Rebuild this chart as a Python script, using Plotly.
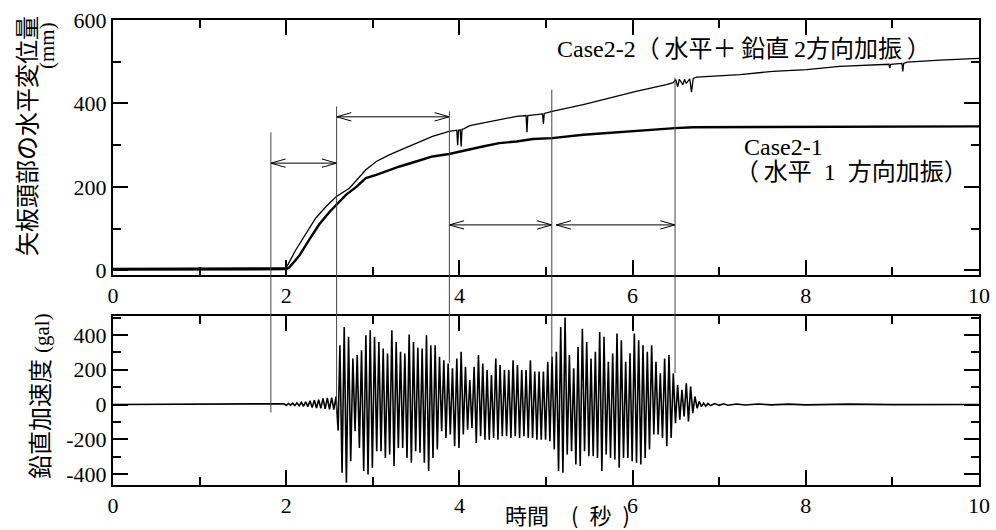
import plotly.graph_objects as go

# ---------------- data ----------------
# Horizontal displacement of sheet-pile head (mm)
case21_t = [0.0, 1.90, 2.00, 2.035, 2.15, 2.27, 2.38, 2.50, 2.58, 2.69, 2.81, 2.92, 3.04, 3.19,
            3.31, 3.50, 3.69, 3.88, 4.08, 4.27, 4.46, 4.66, 4.85, 5.07, 5.43, 5.81, 6.20,
            6.49, 6.70, 8.00, 10.0]
case21_v = [2, 2, 3, 7, 35, 75, 110, 140, 157, 181, 200, 221, 229, 241,
            249, 261, 273, 279, 289, 297, 305, 309, 315, 317, 325, 331, 337,
            341, 343, 344, 345]

case22_t = [0.0, 1.90, 2.00, 2.11, 2.23, 2.34, 2.46, 2.58, 2.73, 2.84, 2.92, 3.04, 3.19, 3.35,
            3.50, 3.69, 3.88, 3.97, 3.98, 3.99, 4.01, 4.02, 4.03, 4.05, 4.12, 4.27, 4.46,
            4.66, 4.77, 4.78, 4.79, 4.89, 4.96, 4.97, 4.98, 5.07, 5.43, 5.81, 6.04, 6.39,
            6.47, 6.49, 6.50, 6.52, 6.54, 6.58, 6.60, 6.62, 6.66, 6.68, 6.70, 6.74, 7.24,
            7.62, 8.01, 8.39, 8.78, 8.96, 8.97, 8.98, 9.11, 9.12, 9.13, 9.17, 9.55, 9.79, 10.0]
case22_v = [5, 5, 6, 49, 89, 125, 153, 177, 197, 221, 241, 261, 277, 291,
            305, 321, 333, 336, 300, 336, 337, 297, 338, 339, 347, 353, 361,
            369, 371, 331, 371, 373, 375, 351, 376, 381, 397, 417, 429, 445,
            450, 455, 457, 440, 458, 445, 458, 448, 459, 427, 460, 463, 469,
            477, 481, 489, 493, 494, 485, 494, 496, 477, 496, 499, 504, 507, 508]

# Vertical acceleration (gal)
acc_pre_t = [0.0, 1.90, 1.95, 1.975, 2.000, 2.025, 2.050, 2.075, 2.100, 2.125, 2.150, 2.175,
             2.200, 2.225, 2.250, 2.275, 2.300, 2.325, 2.350, 2.375, 2.400, 2.425, 2.450,
             2.475, 2.500, 2.525, 2.550, 2.575, 2.600]
acc_pre_v = [0, 0, 0, 4, -5, 6, -4, 8, -6, 10, -8, 12,
             -10, 15, -12, 22, -18, 25, -20, 28, -22, 35, -25,
             38, -28, 40, -30, 45, -150]

acc_peak_hi_t = [2.62, 2.67, 2.72, 2.77, 2.82, 2.87, 2.92, 2.97, 3.02, 3.07, 3.12, 3.17, 3.22,
                 3.27, 3.32, 3.37, 3.42, 3.47, 3.52, 3.57, 3.62, 3.67, 3.72, 3.77, 3.82, 3.87,
                 3.92, 3.97, 4.02, 4.07, 4.12, 4.17, 4.22, 4.27, 4.32, 4.37, 4.42, 4.47, 4.52,
                 4.57, 4.62, 4.67, 4.72, 4.77, 4.82, 4.87, 4.92, 4.97, 5.02, 5.07, 5.12, 5.17,
                 5.22, 5.27, 5.32, 5.37, 5.42, 5.47, 5.52, 5.57, 5.62, 5.67, 5.72, 5.77, 5.82,
                 5.87, 5.92, 5.97, 6.02, 6.07, 6.12, 6.17, 6.22, 6.27, 6.32, 6.37, 6.42, 6.47,
                 6.52, 6.57, 6.62, 6.67, 6.72, 6.77]
acc_peak_hi_v = [341, 446, 389, 265, 284, 312, 398, 427, 389, 360, 322, 293, 427,
                 360, 303, 293, 402, 360, 326, 322, 398, 341, 341, 274, 255, 236,
                 208, 265, 303, 217, 141, 217, 284, 236, 198, 170, 265, 227, 198,
                 198, 255, 227, 198, 198, 255, 189, 189, 189, 246, 274, 303, 446,
                 500, 284, 208, 331, 436, 360, 265, 303, 417, 389, 246, 293, 408,
                 370, 246, 295, 408, 370, 341, 303, 341, 246, 179, 265, 284, 179,
                 112, 84, 122, 103, 46, 17]
acc_peak_lo_t = [2.645, 2.695, 2.745, 2.795, 2.845, 2.895, 2.945, 2.995, 3.045, 3.095, 3.145,
                 3.195, 3.245, 3.295, 3.345, 3.395, 3.445, 3.495, 3.545, 3.595, 3.645, 3.695,
                 3.745, 3.795, 3.845, 3.895, 3.945, 3.995, 4.045, 4.095, 4.145, 4.195, 4.245,
                 4.295, 4.345, 4.395, 4.445, 4.495, 4.545, 4.595, 4.645, 4.695, 4.745, 4.795,
                 4.845, 4.895, 4.945, 4.995, 5.045, 5.095, 5.145, 5.195, 5.245, 5.295, 5.345,
                 5.395, 5.445, 5.495, 5.545, 5.595, 5.645, 5.695, 5.745, 5.795, 5.845, 5.895,
                 5.945, 5.995, 6.045, 6.095, 6.145, 6.195, 6.245, 6.295, 6.345, 6.395, 6.445,
                 6.495, 6.545, 6.595, 6.645, 6.695, 6.745]
acc_peak_lo_v = [-392, -450, -326, -154, -250, -383, -402, -364, -269, -269, -307,
                 -288, -354, -250, -250, -307, -335, -269, -278, -335, -383, -307,
                 -259, -154, -192, -173, -240, -250, -173, -145, -135, -221, -183,
                 -202, -202, -192, -202, -183, -183, -192, -183, -192, -183, -192,
                 -192, -202, -202, -202, -211, -259, -383, -392, -288, -269, -345,
                 -354, -269, -297, -297, -307, -383, -288, -307, -316, -364, -307,
                 -307, -326, -335, -345, -307, -259, -173, -173, -192, -240, -192,
                 -107, -88, -69, -97, -50, -21]

acc_post_t = [6.795, 6.820, 6.845, 6.870, 6.900, 6.950, 7.000, 7.050, 7.100, 7.200, 7.300,
              7.450, 7.600, 7.800, 8.000, 8.500, 9.000, 9.500, 10.0]
acc_post_v = [-12, 8, -10, 6, -6, 5, -5, 4, -4, 3, -3, 3, -2, 2, -2, 2, -1, 1, 0]

# Reference lines (time) and their extents (top panel mm / bottom panel gal)
mark_t = [1.823, 2.582, 3.884, 5.067, 6.49]
mark_top_mm = [331, 393, 381, 433, 462]
mark_bot_gal = [-46, -46, 240, 240, 180]

# Double-headed arrows: start time, end time, height (mm)
arrow_t0 = [1.823, 2.582, 3.884, 5.118]
arrow_t1 = [2.582, 3.884, 5.067, 6.49]
arrow_mm = [257, 368, 109, 109]

x_ticks = [0, 2, 4, 6, 8, 10]
x_ticktext = ["0", "2", "4", "6", "8", "10"]
y1_ticks = [0, 200, 400, 600]
y1_ticktext = ["0", "200", "400", "600"]
y2_ticks = [-400, -200, 0, 200, 400]
y2_ticktext = ["-400", "-200", "0", "200", "400"]

label_case22 = "Case2-2（\u2009水平＋\u2009鉛直\u20092方向加振\u2009）"
label_case21a = "Case2-1"
label_case21b = "（\u2009水平\u20021\u2002方向加振）"
ytitle1 = "矢板頭部の水平変位量"
ytitle1_unit = "(mm)"
ytitle2 = "鉛直加速度"
ytitle2_unit = "(gal)"
xtitle = "時間\u3000(\u2002秒\u2002)"

# ---------------- layout constants ----------------
W, H = 996, 530
ML, MR, MT, MB = 113, 17, 20, 45
Y1_RANGE = [-11, 600]
Y2_RANGE = [-463, 509]
plot_h = H - MT - MB
DOM1 = [1 - (275 - MT) / plot_h, 1.0]
DOM2 = [0.0, 1 - (316 - MT) / plot_h]

SERIF = "Liberation Serif"
CJK = "Noto Sans CJK JP"
MIX = "Liberation Serif, Noto Sans CJK JP"
TICK_SIZE = 22


def paper_y(val, rng, dom):
    return dom[0] + (val - rng[0]) / (rng[1] - rng[0]) * (dom[1] - dom[0])


def py(px):
    """pixel row -> paper y"""
    return 1 - (px - MT) / plot_h


# interleave peak lists into a single acceleration series
acc_t = list(acc_pre_t)
acc_v = list(acc_pre_v)
for i in range(len(acc_peak_hi_t)):
    acc_t.append(acc_peak_hi_t[i]); acc_v.append(acc_peak_hi_v[i])
    if i < len(acc_peak_lo_t):
        acc_t.append(acc_peak_lo_t[i]); acc_v.append(acc_peak_lo_v[i])
acc_t += acc_post_t
acc_v += acc_post_v

fig = go.Figure()

fig.add_trace(go.Scatter(x=case22_t, y=case22_v, mode="lines",
                         line=dict(color="black", width=1.3), xaxis="x", yaxis="y",
                         showlegend=False, hoverinfo="skip"))
fig.add_trace(go.Scatter(x=case21_t, y=case21_v, mode="lines",
                         line=dict(color="black", width=2.4), xaxis="x", yaxis="y",
                         showlegend=False, hoverinfo="skip"))
fig.add_trace(go.Scatter(x=acc_t, y=acc_v, mode="lines",
                         line=dict(color="black", width=1.6), xaxis="x2", yaxis="y2",
                         showlegend=False, hoverinfo="skip"))

# arrows (shaft + open V heads)
HEAD_DT = 0.17
HEAD_DY = 10
ax_x, ax_y = [], []
for t0, t1, yv in zip(arrow_t0, arrow_t1, arrow_mm):
    ax_x += [t0, t1, None]
    ax_y += [yv, yv, None]
    ax_x += [t0 + HEAD_DT, t0, t0 + HEAD_DT, None]
    ax_y += [yv + HEAD_DY, yv, yv - HEAD_DY, None]
    ax_x += [t1 - HEAD_DT, t1, t1 - HEAD_DT, None]
    ax_y += [yv + HEAD_DY, yv, yv - HEAD_DY, None]
fig.add_trace(go.Scatter(x=ax_x, y=ax_y, mode="lines", line=dict(color="black", width=1),
                         xaxis="x", yaxis="y", showlegend=False, hoverinfo="skip"))

shapes = []
for t, top, bot in zip(mark_t, mark_top_mm, mark_bot_gal):
    shapes.append(dict(type="line", xref="x", yref="paper", x0=t, x1=t,
                       y0=paper_y(bot, Y2_RANGE, DOM2), y1=paper_y(top, Y1_RANGE, DOM1),
                       line=dict(color="#444444", width=1)))

axis_common = dict(range=[0, 10], tickvals=x_ticks, ticktext=x_ticktext, ticks="inside",
                   ticklen=15, tickwidth=2,
                   tickcolor="black", showline=True, linewidth=2, linecolor="black",
                   mirror="ticks", showgrid=False, zeroline=False,
                   tickfont=dict(family=SERIF, size=TICK_SIZE, color="black"),
                   minor=dict(dtick=1, tick0=0, ticks="inside", ticklen=8, tickwidth=2,
                              tickcolor="black", showgrid=False))

yaxis_common = dict(ticks="inside", ticklen=15, tickwidth=2, tickcolor="black",
                    showline=True, linewidth=2, linecolor="black", mirror="ticks",
                    showgrid=False, zeroline=False,
                    tickfont=dict(family=SERIF, size=TICK_SIZE, color="black"),
                    minor=dict(dtick=100, tick0=0, ticks="inside", ticklen=8, tickwidth=2,
                               tickcolor="black", showgrid=False))

annotations = [
    dict(x=5.10, y=531, xref="x", yref="y", text=label_case22, showarrow=False,
         xanchor="left", yanchor="middle", font=dict(family=MIX, size=24, color="black")),
    dict(x=7.26, y=296, xref="x", yref="y", text=label_case21a, showarrow=False,
         xanchor="left", yanchor="middle", font=dict(family=MIX, size=24, color="black")),
    dict(x=7.16, y=236, xref="x", yref="y", text=label_case21b, showarrow=False,
         xanchor="left", yanchor="middle", font=dict(family=MIX, size=24, color="black")),
    dict(x=0, y=py(136), xref="paper", yref="paper", xshift=25 - ML,
         text=ytitle1, showarrow=False, textangle=-90, xanchor="center", yanchor="middle",
         font=dict(family=CJK, size=24, color="black")),
    dict(x=0, y=py(46), xref="paper", yref="paper", xshift=47 - ML,
         text=ytitle1_unit, showarrow=False, textangle=-90, xanchor="center", yanchor="middle",
         font=dict(family=SERIF, size=21, color="black")),
    dict(x=0, y=py(419), xref="paper", yref="paper", xshift=38 - ML,
         text=ytitle2, showarrow=False, textangle=-90, xanchor="center", yanchor="middle",
         font=dict(family=CJK, size=24, color="black")),
    dict(x=0, y=py(333), xref="paper", yref="paper", xshift=42 - ML,
         text=ytitle2_unit, showarrow=False, textangle=-90, xanchor="center", yanchor="middle",
         font=dict(family=SERIF, size=21, color="black")),
    dict(x=0, y=py(514), xref="paper", yref="paper", xshift=567 - ML,
         text=xtitle, showarrow=False, xanchor="center", yanchor="middle",
         font=dict(family=CJK, size=22, color="black")),
]

fig.update_layout(
    width=W, height=H,
    margin=dict(l=ML, r=MR, t=MT, b=MB, autoexpand=False),
    paper_bgcolor="white", plot_bgcolor="white",
    xaxis=dict(domain=[0, 1], anchor="y", **axis_common),
    yaxis=dict(domain=DOM1, anchor="x", range=Y1_RANGE, tickvals=y1_ticks,
               ticktext=y1_ticktext, **yaxis_common),
    xaxis2=dict(domain=[0, 1], anchor="y2", **axis_common),
    yaxis2=dict(domain=DOM2, anchor="x2", range=Y2_RANGE, tickvals=y2_ticks,
                ticktext=y2_ticktext, **yaxis_common),
    shapes=shapes,
    annotations=annotations,
    showlegend=False,
)

fig.write_html("out.html", config={"displayModeBar": False},
               post_script="document.body.style.margin='0';document.body.style.overflow='hidden';")
